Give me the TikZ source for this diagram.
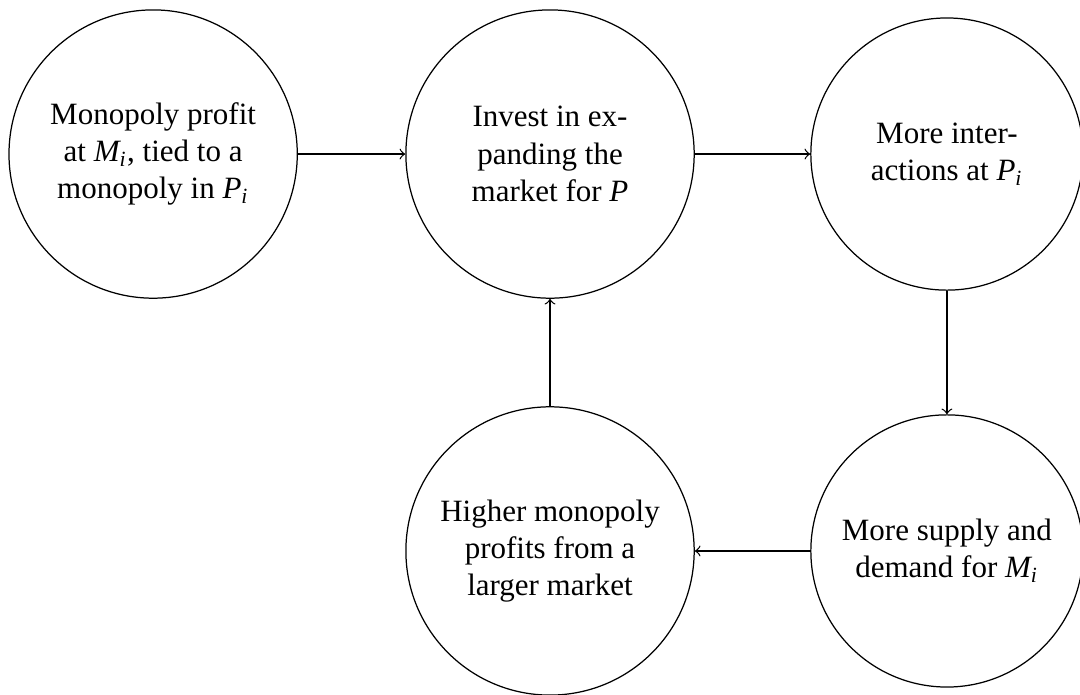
\documentclass[tikz,border=0pt]{standalone}
\usepackage{amsmath}
\usepackage{fontspec}
\setmainfont{Liberation Serif}
% italic variable with an italic subscript, both in the text face
\newcommand{\mv}[2]{$\text{\itshape #1}_{\text{\itshape #2}}$}
\begin{document}
\begin{tikzpicture}[
  font=\fontsize{10pt}{12pt}\selectfont,
  bubble/.style={circle, draw, align=center, inner sep=0pt, minimum size=93pt},
  smallbubble/.style={bubble, minimum size=87.8pt},
  link/.style={->}
]
\useasboundingbox (-49.4pt,-174.2pt) rectangle (299pt,49.7pt);

\node[bubble] (profit) at (0,0) {Monopoly profit\\at \mv{M}{i}, tied to a\\monopoly in \mv{P}{i}};
\node[bubble] (invest) at (4.5cm,0) {Invest in ex-\\panding the\\market for \textit{P}};
\node[smallbubble] (interact) at (9cm,0) {More inter-\\actions at \mv{P}{i}};
\node[smallbubble] (supply) at (9cm,-4.5cm) {More supply and\\demand for \mv{M}{i}};
\node[bubble] (higher) at (4.5cm,-4.5cm) {Higher monopoly\\profits from a\\larger market};

\draw[link] (profit) -- (invest);
\draw[link] (invest) -- (interact);
\draw[link] (interact) -- (supply);
\draw[link] (supply) -- (higher);
\draw[link] (higher) -- (invest);
\end{tikzpicture}
\end{document}
